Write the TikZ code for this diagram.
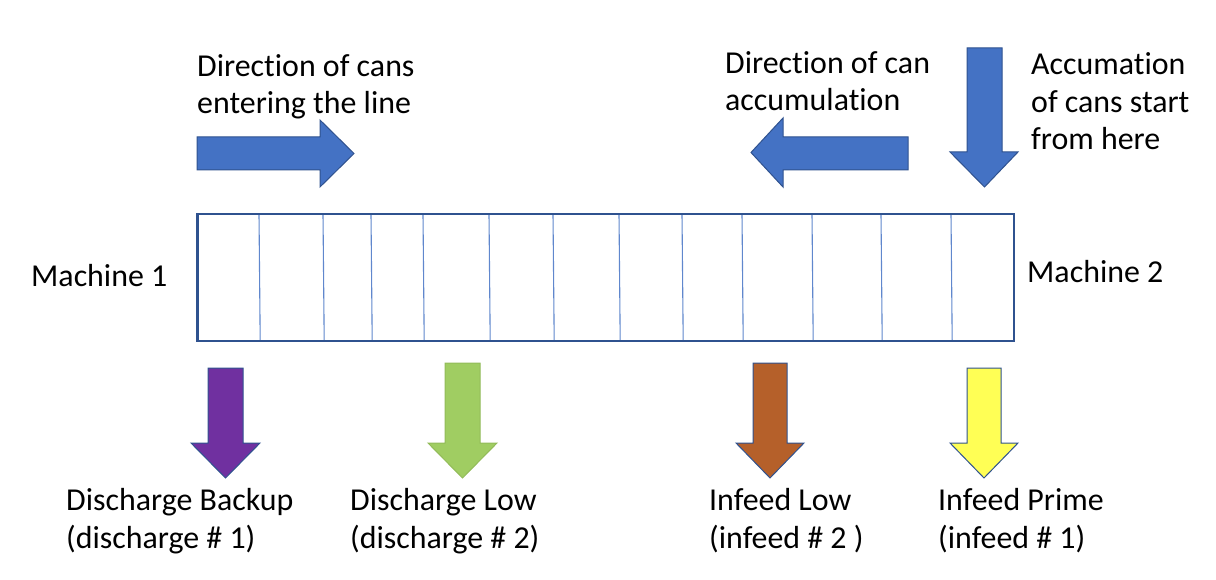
\documentclass[tikz,border=0pt]{standalone}
\usepackage{fontspec}
\setmainfont{Carlito}[Ligatures=NoCommon]
\definecolor{arrblue}{HTML}{4472C4}
\definecolor{edgeblue}{HTML}{2F528F}
\definecolor{purplefill}{HTML}{7030A0}
\definecolor{greenfill}{HTML}{A0CD62}
\definecolor{brownfill}{HTML}{B5602A}
\definecolor{yellowfill}{HTML}{FFFF55}
\begin{document}
\begin{tikzpicture}[x=1pt,y=-1pt,
  lbl/.style={anchor=base west,inner sep=0pt,align=left,font=\fontsize{31.9}{37.5}\selectfont},
  blk/.style={line width=1pt,draw=edgeblue,line join=miter},
  cell/.style={draw=arrblue!85,line width=1.1pt}]
\useasboundingbox (0,0) rectangle (1216,580);

% top arrows
\path[blk,fill=arrblue] (197,137) -- (320,137) -- (320,120) -- (354,153.5) -- (320,187) -- (320,170) -- (197,170) -- cycle;
\path[blk,fill=arrblue] (908,137) -- (783,137) -- (783,118) -- (751,152.5) -- (783,187) -- (783,170) -- (908,170) -- cycle;
\path[blk,fill=arrblue] (967,48) -- (1002,48) -- (1002,152) -- (1018,152) -- (984.5,187) -- (950,152) -- (967,152) -- cycle;

% conveyor
\coordinate (boxtl) at (197.5,214);
\coordinate (boxbr) at (1014,341);
\foreach \x in {259,323,371,423,489,553,619,682,742,812,881,951}{
  \draw[cell] (\x,214) -- (\x+1.2,341);
}
\draw[edgeblue,line width=2.7pt] (boxtl) rectangle (boxbr);

% bottom arrows
\path[blk,fill=purplefill] (208,368) -- (243,368) -- (243,443) -- (260,443) -- (225.5,478) -- (191,443) -- (208,443) -- cycle;
\path[blk,draw=greenfill!85!black!60!greenfill,fill=greenfill] (445,363) -- (480,363) -- (480,443) -- (497,443) -- (462.5,478) -- (428,443) -- (445,443) -- cycle;
\path[blk,fill=brownfill] (753,363) -- (787,363) -- (787,443) -- (804,443) -- (770,478) -- (736,443) -- (753,443) -- cycle;
\path[blk,fill=yellowfill] (967,368) -- (1001,368) -- (1001,443) -- (1018,443) -- (984,478) -- (950,443) -- (967,443) -- cycle;

% labels (anchor = baseline of last line)
\node[lbl] (dirin) at (197,114) {Direction of cans\\entering the line};
\node[lbl] (diracc) at (725,111) {Direction of can\\accumulation};
\node[lbl] (start) at (1031,150) {Accumation\\of cans start\\from here};
\node[lbl] (m1) at (31,287) {Machine 1};
\node[lbl] (m2) at (1027,283) {Machine 2};
\node[lbl] (d1) at (66,548) {Discharge Backup\\(discharge \# 1)};
\node[lbl] (d2) at (350,548) {Discharge Low\\(discharge \# 2)};
\node[lbl] (i2) at (709,548) {Infeed Low\\(infeed \# 2 )};
\node[lbl] (i1) at (938,548) {Infeed Prime\\(infeed \# 1)};
\end{tikzpicture}
\end{document}
